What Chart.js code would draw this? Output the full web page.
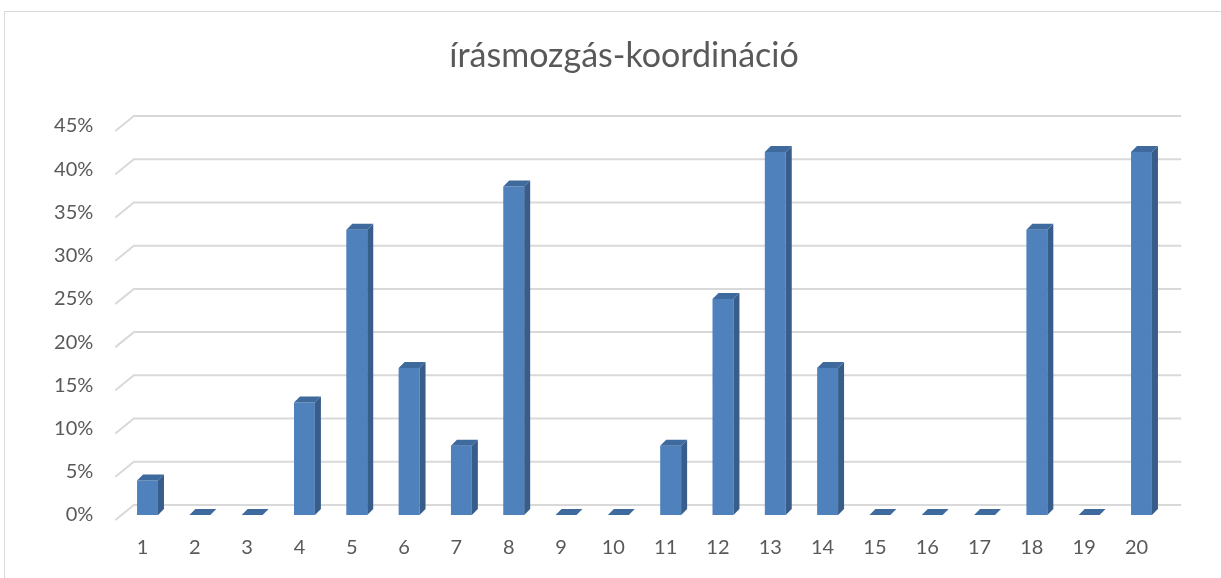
<!DOCTYPE html>
<html>
<head>
<meta charset="utf-8">
<script src="https://cdn.jsdelivr.net/npm/chart.js@4"></script>
<style>
  html, body { margin: 0; padding: 0; background: #fff; }
  #wrap { width: 1221px; height: 578px; position: relative; }
</style>
</head>
<body>
<div id="wrap"><canvas id="chart"></canvas></div>
<script>
var labels = ['1', '2', '3', '4', '5', '6', '7', '8', '9', '10',
              '11', '12', '13', '14', '15', '16', '17', '18', '19', '20'];
var values = [4, 0, 0, 13, 33, 17, 8, 38, 0, 0, 8, 25, 42, 17, 0, 0, 0, 33, 0, 42];
var yTicks = [0, 5, 10, 15, 20, 25, 30, 35, 40, 45];
var titleText = 'írásmozgás-koordináció';

var frontColor = '#4F81BD';
var sideColor = '#385D8A';
var topColor = '#3F6A9E';
var gridColor = '#D9D9D9';
var textColor = '#595959';
var depth = 6;

// outer chart border (top and left visible) and the title
var frame = {
    id: 'frame',
    beforeDraw: function (chart) {
        var ctx = chart.ctx;
        ctx.save();
        ctx.strokeStyle = '#D9D9D9';
        ctx.lineWidth = 1;
        ctx.strokeRect(4.5, 11.5, 1300, 700);
        ctx.fillStyle = textColor;
        ctx.font = '34px Lato';
        ctx.textAlign = 'center';
        ctx.textBaseline = 'middle';
        ctx.fillText(titleText, 624, 56);
        ctx.restore();
    }
};

// back-wall gridlines with the little floor slant on the left
var wall = {
    id: 'wall',
    beforeDatasetsDraw: function (chart) {
        var ctx = chart.ctx;
        var y = chart.scales.y;
        var area = chart.chartArea;
        ctx.save();
        ctx.strokeStyle = gridColor;
        ctx.lineWidth = 2;
        yTicks.forEach(function (v) {
            var py = y.getPixelForValue(v);
            ctx.beginPath();
            ctx.moveTo(area.left - 6, py + 5);
            ctx.lineTo(area.left + 12.5, py - 10);
            ctx.lineTo(area.right + 13.5, py - 10);
            ctx.stroke();
        });
        ctx.restore();
    }
};

// side and top faces of the columns
var faces = {
    id: 'faces',
    afterDatasetsDraw: function (chart) {
        var ctx = chart.ctx;
        var meta = chart.getDatasetMeta(0);
        ctx.save();
        meta.data.forEach(function (bar) {
            var half = bar.width / 2;
            var l = bar.x - half, r = bar.x + half;
            var t = bar.y, b = bar.base;
            if (b - t > 0.5) {
                ctx.fillStyle = sideColor;
                ctx.beginPath();
                ctx.moveTo(r, t);
                ctx.lineTo(r + depth, t - depth);
                ctx.lineTo(r + depth, b - depth);
                ctx.lineTo(r, b);
                ctx.closePath();
                ctx.fill();
            }
            ctx.fillStyle = topColor;
            ctx.beginPath();
            ctx.moveTo(l, t);
            ctx.lineTo(l + depth, t - depth);
            ctx.lineTo(r + depth, t - depth);
            ctx.lineTo(r, t);
            ctx.closePath();
            ctx.fill();
        });
        ctx.restore();
    }
};

var ctx = document.getElementById('chart').getContext('2d');
var chart = new Chart(ctx, {
    type: 'bar',
    data: {
        labels: labels,
        datasets: [{
            data: values,
            backgroundColor: frontColor,
            borderWidth: 0,
            categoryPercentage: 1,
            barPercentage: 0.4
        }]
    },
    options: {
        responsive: true,
        maintainAspectRatio: false,
        animation: false,
        layout: {
            padding: { top: 126, right: 53.35, bottom: 0, left: 0 }
        },
        plugins: {
            legend: { display: false },
            tooltip: { enabled: false },
            title: { display: false }
        },
        scales: {
            x: {
                grid: { display: false, drawTicks: false },
                border: { display: false },
                ticks: {
                    color: textColor,
                    font: { family: 'Lato', size: 20 },
                    padding: 21,
                    labelOffset: -5,
                    maxRotation: 0,
                    autoSkip: false
                },
                afterFit: function (s) { s.height = 63; }
            },
            y: {
                min: 0,
                max: 45,
                grid: { display: false, drawTicks: false },
                border: { display: false },
                ticks: {
                    stepSize: 5,
                    color: textColor,
                    font: { family: 'Lato', size: 20 },
                    padding: 28,
                    callback: function (v) { return v + '%'; }
                },
                afterFit: function (s) { s.width = 121.35; }
            }
        }
    },
    plugins: [frame, wall, faces]
});
</script>
</body>
</html>
